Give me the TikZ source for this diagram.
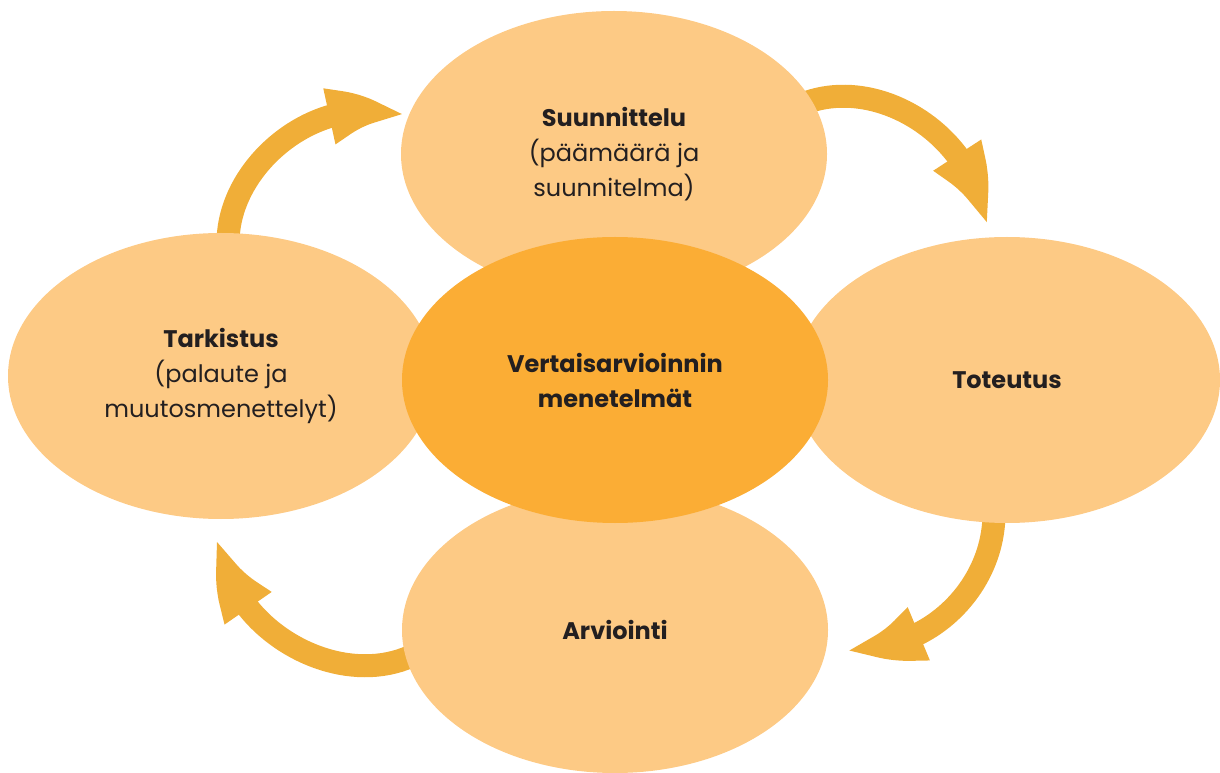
\documentclass[tikz,border=0pt]{standalone}
\usepackage{fontspec}
\setmainfont{Poppins}
\usetikzlibrary{shapes.geometric,arrows.meta,bending,backgrounds}

\definecolor{vaalea}{HTML}{FDCA85}
\definecolor{tumma}{HTML}{FBAD35}
\definecolor{nuoli}{HTML}{F0AE38}
\definecolor{musta}{HTML}{231F20}

\tikzset{
  soikio/.style={ellipse, fill=vaalea, minimum width=426pt, minimum height=286pt,
    inner sep=0pt, align=center, text=musta, font=\fontsize{24}{35}\selectfont},
  keskus/.style={soikio, fill=tumma},
  kaari/.style={draw=nuoli, line width=23pt, -{Triangle[width=50pt, length=80pt, bend]}}
}

\begin{document}
\begin{tikzpicture}[x=1pt, y=1pt]
    \useasboundingbox (0,0) rectangle (1220,772);

    % Phases.
    \node[soikio] (suun) at (614,618) {\textbf{Suunnittelu}\\(päämäärä ja\\suunnitelma)};
    \node[soikio] (tark) at (221,396) {\textbf{Tarkistus}\\(palaute ja\\muutosmenettelyt)};
    \node[soikio] (tot)  at (1007,392) {\textbf{Toteutus}};
    \node[soikio] (arv)  at (615,142) {\textbf{Arviointi}};

    % Centre.
    \node[keskus] (kesk) at (615,392) {\textbf{Vertaisarvioinnin}\\\textbf{menetelmät}};

    % Arrows between phases.
    \begin{pgfonlayer}{background}
      \draw[kaari] ([xshift=7pt, yshift=-10pt]tark.north) to[out=90, in=154] (suun.171);
      \draw[kaari] ([xshift=-12pt]suun.14) to[out=22, in=90] ([xshift=-24pt, yshift=8pt]tot.north);
      \draw[kaari] ([xshift=-13pt, yshift=10pt]tot.south) to[out=-90, in=-9] ([xshift=15pt, yshift=-16pt]arv.east);
      \draw[kaari] ([xshift=14pt, yshift=-24pt]arv.west) to[out=207, in=-90] ([yshift=-16pt]tark.south);
    \end{pgfonlayer}

\end{tikzpicture}
\end{document}
